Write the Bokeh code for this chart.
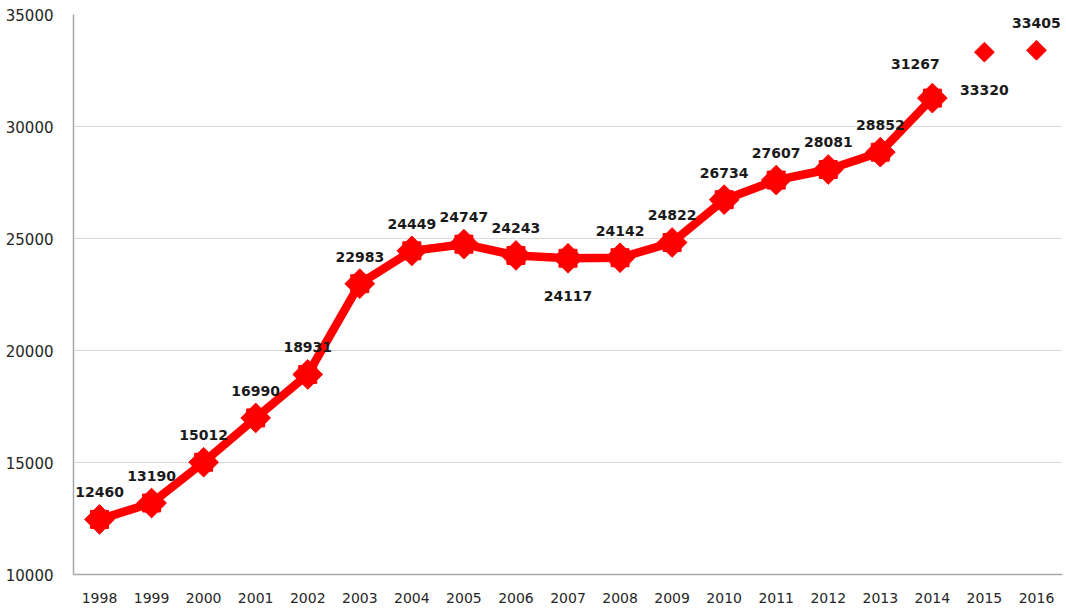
import math
from bokeh.plotting import figure
from bokeh.models import ColumnDataSource, FixedTicker, Range1d
from bokeh.core.properties import value
from bokeh.embed import file_html
from bokeh.resources import INLINE

years = [str(y) for y in range(1998, 2017)]
values = [12460, 13190, 15012, 16990, 18931, 22983, 24449, 24747, 24243, 24117,
          24142, 24822, 26734, 27607, 28081, 28852, 31267, 33320, 33405]
line_years = years[:17]
line_values = values[:17]
extra_years = years[17:]
extra_values = values[17:]
label_pos = ["above"] * 9 + ["below"] + ["above"] * 6 + ["aboveleft", "below", "above"]
y_ticks = [10000, 15000, 20000, 25000, 30000, 35000]

off = {"above": (0, -27), "below": (0, 38), "aboveleft": (-17, -34)}

p = figure(width=1064, height=609, x_range=years, y_range=Range1d(10000, 35000),
           output_backend="svg", toolbar_location=None,
           min_border_left=73, min_border_top=14, min_border_bottom=35, min_border_right=2)
p.outline_line_color = None
p.background_fill_color = "white"

p.xgrid.grid_line_color = None
p.ygrid.grid_line_color = "#d9d9d9"
p.ygrid.grid_line_width = 1
p.yaxis.ticker = FixedTicker(ticks=y_ticks)
for ax in (p.xaxis, p.yaxis):
    ax.axis_line_color = "#a6a6a6"
    ax.axis_line_width = 1.5
    ax.major_tick_line_color = None
    ax.minor_tick_line_color = None
    ax.major_label_text_font = "DejaVu Sans"
    ax.major_label_text_font_size = "14px"
    ax.major_label_text_color = "#262626"
p.yaxis.major_label_text_font_size = "15px"
p.yaxis.major_label_standoff = 14
p.xaxis.major_label_standoff = 12

src_line = ColumnDataSource(dict(x=line_years, y=line_values))
p.line("x", "y", source=src_line, line_color="#ff0000", line_width=8.5)
p.scatter("x", "y", source=src_line, marker="square", size=21, angle=math.pi / 4,
          fill_color="#ff0000", line_color="#ff0000")
p.scatter("x", "y", source=src_line, marker="square", size=18,
          fill_color="#ff0000", line_color="#ff0000")

src_extra = ColumnDataSource(dict(x=extra_years, y=extra_values))
p.scatter("x", "y", source=src_extra, marker="square", size=14, angle=math.pi / 4,
          fill_color="#ff0000", line_color="#ff0000")

src_lab = ColumnDataSource(dict(
    x=years, y=values, t=[str(v) for v in values],
    xo=[off[k][0] for k in label_pos], yo=[off[k][1] for k in label_pos]))
p.text("x", "y", text="t", source=src_lab, x_offset="xo", y_offset="yo",
       text_align="center", text_baseline="middle",
       text_font=value("DejaVu Sans"), text_font_style="bold",
       text_font_size="14px", text_color="#1a1a1a")

open("out.html", "w").write(file_html(p, INLINE))
